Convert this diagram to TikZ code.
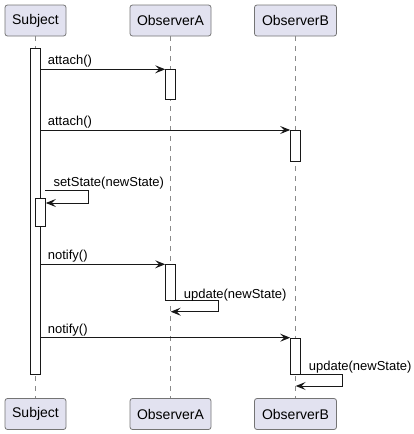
\documentclass[tikz,border=0pt]{standalone}
\usepackage{fontspec}
\setmainfont{Liberation Sans}
\usetikzlibrary{arrows.meta,calc}
\definecolor{pfill}{HTML}{E2E2F0}
\definecolor{pline}{HTML}{181818}
\definecolor{lline}{HTML}{8A8A8A}
\begin{document}
\begin{tikzpicture}[x=1pt,y=-1pt,
  part/.style={draw=pline!60, line width=0.8pt, fill=pfill, rounded corners=2.5pt,
    minimum height=31pt, inner sep=0pt, font=\fontsize{14}{16}\selectfont},
  life/.style={draw=lline, line width=0.8pt, dash pattern=on 5pt off 5pt},
  actbox/.style={draw=pline, line width=1pt, fill=white, minimum width=10pt, inner sep=0pt, anchor=north},
  msg/.style={draw=pline, line width=1pt, -{Stealth[length=10pt,width=8pt,inset=4pt]}},
  lbl/.style={inner sep=0pt, anchor=base west, font=\fontsize{13}{15}\selectfont}]
\useasboundingbox (0,0) rectangle (414,434);
% participants
\node[part, minimum width=61pt] (sT) at (35.5,20.5) {Subject};
\node[part, minimum width=81pt] (aT) at (170.5,20.5) {ObserverA};
\node[part, minimum width=82pt] (bT) at (295.5,20.5) {ObserverB};
\node[part, minimum width=61pt] (sB) at (35.5,414) {Subject};
\node[part, minimum width=81pt] (aB) at (170.5,414) {ObserverA};
\node[part, minimum width=82pt] (bB) at (295.5,414) {ObserverB};
% lifelines
\draw[life] (sT.south) -- (sB.north);
\draw[life] (aT.south) -- (aB.north);
\draw[life] (bT.south) -- (bB.north);
% activations
\node[actbox, minimum height=326pt] (sAct) at (35.2,48) {};
\node[actbox, minimum height=30pt] (a1) at (170.7,69.3) {};
\node[actbox, minimum height=30.5pt] (b1) at (295.7,130) {};
\node[actbox, minimum height=28pt] (s2) at (40.3,198) {};
\node[actbox, minimum height=36pt] (a2) at (170.7,264.3) {};
\node[actbox, minimum height=36.3pt] (b2) at (295.7,337.7) {};
% messages
\coordinate (m1) at (sAct.east |- a1.north);
\draw[msg] (m1) -- (a1.north west);
\node[lbl] (l1) at ($(m1)+(7,-4.5)$) {attach()};
\coordinate (m2) at (sAct.east |- b1.north);
\draw[msg] (m2) -- (b1.north west);
\node[lbl] (l2) at ($(m2)+(7,-4.5)$) {attach()};
\coordinate (m3) at (45.3,190.7);
\coordinate (m3e) at ($(s2.north east)+(0,5)$);
\draw[msg] (m3) -- ++(42.7,0) |- (m3e);
\node[lbl] (l3) at ($(m3)+(8,-4.7)$) {setState(newState)};
\coordinate (m4) at (sAct.east |- a2.north);
\draw[msg] (m4) -- (a2.north west);
\node[lbl] (l4) at ($(m4)+(7,-4.5)$) {notify()};
\coordinate (m5) at ($(a2.south east)+(0,-1)$);
\coordinate (m5e) at (170.7,311.7);
\draw[msg] (m5) -- ++(42,0) |- (m5e);
\node[lbl] (l5) at ($(m5)+(7.5,-2.3)$) {update(newState)};
\coordinate (m6) at (sAct.east |- b2.north);
\draw[msg] (m6) -- (b2.north west);
\node[lbl] (l6) at ($(m6)+(7,-4.5)$) {notify()};
\coordinate (m7) at ($(b2.south east)+(0,-0.7)$);
\coordinate (m7e) at (295.7,386);
\draw[msg] (m7) -- ++(41.6,0) |- (m7e);
\node[lbl] (l7) at ($(m7)+(7.5,-4.3)$) {update(newState)};
\end{tikzpicture}
\end{document}
